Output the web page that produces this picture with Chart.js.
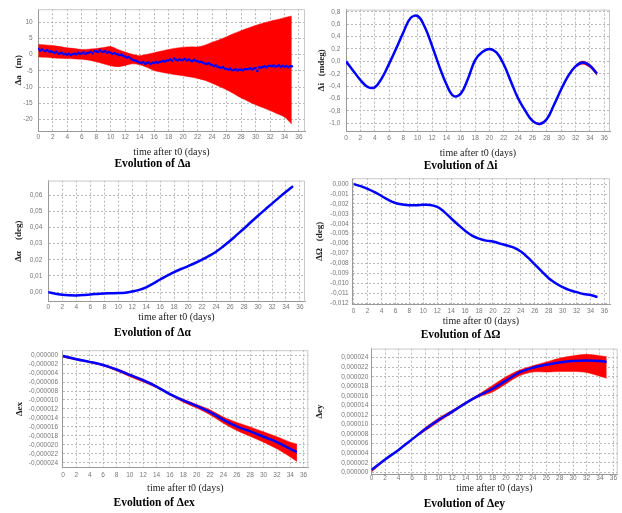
<!DOCTYPE html>
<html><head><meta charset="utf-8">
<script src="https://cdn.jsdelivr.net/npm/chart.js@4.4.0/dist/chart.umd.min.js"></script>
<style>
html,body{margin:0;padding:0;background:#fff;width:622px;height:513px;overflow:hidden;}
canvas{position:absolute;}
</style></head><body>
<canvas id="c1" width="311" height="171" style="left:0px;top:0px;width:311px;height:171px"></canvas>
<canvas id="c2" width="311" height="171" style="left:311px;top:0px;width:311px;height:171px"></canvas>
<canvas id="c3" width="311" height="171" style="left:0px;top:171px;width:311px;height:171px"></canvas>
<canvas id="c4" width="311" height="171" style="left:311px;top:171px;width:311px;height:171px"></canvas>
<canvas id="c5" width="311" height="171" style="left:0px;top:342px;width:311px;height:171px"></canvas>
<canvas id="c6" width="311" height="171" style="left:311px;top:342px;width:311px;height:171px"></canvas>
<script>
// ---------- DATA ----------
const days = [0,1,2,3,4,5,6,7,8,9,10,11,12,13,14,15,16,17,18,19,20,21,22,23,24,25,26,27,28,29,30,31,32,33,34,35];

// Δa (m): red envelope + blue points
const daUpper = [3.1,3.0,2.8,2.5,2.1,1.9,1.6,1.7,1.9,2.2,2.5,1.6,0.8,0.1,-0.3,0.1,0.6,1.1,1.6,2.0,2.3,2.4,2.4,2.9,3.8,4.6,5.5,6.5,7.4,8.2,9.0,9.7,10.3,10.8,11.4,11.9];
const daLower = [-0.7,-0.8,-1.0,-1.1,-1.2,-1.3,-1.4,-1.7,-2.2,-2.8,-3.4,-3.7,-3.3,-2.8,-3.1,-3.9,-4.9,-5.4,-5.8,-6.2,-6.5,-6.9,-7.3,-7.9,-8.8,-9.8,-10.8,-12.0,-13.3,-14.4,-15.4,-16.3,-17.2,-18.2,-19.2,-21.4];
const daDotsT = [
 0,0.25,0.5,0.75, 1,1.25,1.5,1.75, 2,2.25,2.5,2.75, 3,3.25,3.5,3.75, 4,4.25,4.5,4.75,
 5,5.25,5.5,5.75, 6,6.25,6.5,6.75, 7,7.25,7.5,7.75, 8,8.25,8.5,8.75, 9,9.25,9.5,9.75,
 10,10.25,10.5,10.75, 11,11.25,11.5,11.75, 12,12.25,12.5,12.75, 13,13.25,13.5,13.75, 14,14.25,14.5,14.75,
 15,15.25,15.5,15.75, 16,16.25,16.5,16.75, 17,17.25,17.5,17.75, 18,18.25,18.5,18.75, 19,19.25,19.5,19.75,
 20,20.25,20.5,20.75, 21,21.25,21.5,21.75, 22,22.25,22.5,22.75, 23,23.25,23.5,23.75, 24,24.25,24.5,24.75,
 25,25.25,25.5,25.75, 26,26.25,26.5,26.75, 27,27.25,27.5,27.75, 28,28.25,28.5,28.75, 29,29.25,29.5,29.75,
 30,30.25,30.5,30.75, 31,31.25,31.5,31.75, 32,32.25,32.5,32.75, 33,33.25,33.5,33.75, 34,34.25,34.5,34.75, 35];
const daDotsV = [
 1.8,1.3,1.6,1.2, 1.1,1.4,0.9,1.0, 0.8,0.5,0.9,0.3, 0.4,0.6,0.1,0.3, 0.0,0.3,-0.2,0.2,
 0.3,0.1,0.6,0.2, 0.4,0.7,0.2,0.5, 0.6,0.9,0.4,1.1, 1.0,0.8,1.4,0.9, 0.9,1.1,0.6,0.8,
 0.6,0.3,0.5,0.2, 0.1,-0.2,0.0,-0.4, -0.6,-0.9,-0.7,-1.2, -1.6,-1.8,-1.9,-2.2, -2.4,-2.6,-2.3,-2.8,
 -2.6,-2.4,-2.9,-2.5, -2.6,-2.3,-2.5,-2.2, -2.2,-1.9,-2.1,-1.8, -1.7,-1.5,-1.9,-1.2, -1.6,-1.8,-1.4,-1.7,
 -1.6,-1.3,-1.8,-1.5, -1.8,-2.0,-1.6,-1.9, -2.0,-2.3,-2.2,-2.5, -2.7,-2.9,-2.6,-3.0, -3.2,-3.5,-3.3,-3.7,
 -3.9,-4.1,-3.8,-4.3, -4.4,-4.6,-4.3,-4.8, -4.7,-4.5,-4.9,-4.6, -4.6,-4.8,-4.4,-4.5, -4.4,-4.2,-4.6,-4.3,
 -4.1,-5.0,-3.9,-4.0, -3.8,-3.6,-3.9,-3.5, -3.4,-3.6,-3.3,-3.7, -3.5,-3.3,-3.8,-3.4, -3.7,-3.5,-3.9,-3.6, -3.6];

// Δi (mdeg)
const diValues = [0,-0.15,-0.30,-0.41,-0.42,-0.27,-0.04,0.21,0.47,0.70,0.73,0.55,0.25,-0.08,-0.37,-0.56,-0.52,-0.28,0.02,0.15,0.20,0.14,-0.05,-0.33,-0.60,-0.80,-0.96,-1.01,-0.93,-0.70,-0.45,-0.23,-0.08,-0.02,-0.07,-0.20];
const diBandT = [24,25,26,27,28,29,30,31,32,33,34,35];
const diUpper = [-0.59,-0.79,-0.95,-0.995,-0.92,-0.69,-0.44,-0.215,-0.06,0.005,-0.05,-0.17];
const diLower = [-0.61,-0.81,-0.97,-1.025,-0.94,-0.71,-0.46,-0.245,-0.10,-0.045,-0.10,-0.23];

// Δα (deg)
const dalphaValues = [0,-0.001,-0.0016,-0.0019,-0.002,-0.0018,-0.0014,-0.0011,-0.0008,-0.0007,-0.0006,-0.0003,0.0004,0.0014,0.003,0.0053,0.0078,0.0102,0.0124,0.0143,0.0161,0.018,0.0201,0.0224,0.025,0.0282,0.0317,0.0355,0.0393,0.0433,0.0472,0.0510,0.0547,0.0584,0.0620,0.0655];

// ΔΩ (deg)
const domegaValues = [0,-0.0002,-0.00047,-0.0008,-0.0012,-0.0016,-0.0019,-0.00205,-0.00213,-0.00213,-0.00208,-0.0021,-0.0023,-0.0028,-0.00347,-0.0041,-0.0047,-0.0052,-0.0055,-0.0057,-0.0058,-0.006,-0.0062,-0.0064,-0.0068,-0.0074,-0.0081,-0.0088,-0.0095,-0.01,-0.0104,-0.0107,-0.0109,-0.0111,-0.0112,-0.0114];

// Δex, Δey
const eT = [0,2,4,6,8,10,12,14,16,18,20,22,24,26,28,30,32,34,35];
const exMean  = [-0.2e-6,-0.9e-6,-1.5e-6,-2.2e-6,-3.2e-6,-4.4e-6,-5.6e-6,-7.0e-6,-8.7e-6,-10.1e-6,-11.3e-6,-12.7e-6,-14.4e-6,-15.9e-6,-17.0e-6,-18.2e-6,-19.4e-6,-20.9e-6,-21.6e-6];
const exUpper = [0.0e-6,-0.75e-6,-1.4e-6,-2.05e-6,-3.0e-6,-4.2e-6,-5.4e-6,-6.85e-6,-8.55e-6,-9.85e-6,-11.0e-6,-12.2e-6,-13.8e-6,-15.0e-6,-16.0e-6,-17.1e-6,-18.2e-6,-19.4e-6,-19.8e-6];
const exLower = [-0.45e-6,-1.1e-6,-1.7e-6,-2.4e-6,-3.5e-6,-4.8e-6,-6.0e-6,-7.3e-6,-8.9e-6,-10.5e-6,-11.8e-6,-13.3e-6,-15.2e-6,-16.8e-6,-18.1e-6,-19.4e-6,-20.9e-6,-22.7e-6,-23.7e-6];
const eyMean  = [0.55e-6,2.7e-6,4.7e-6,6.9e-6,9.05e-6,11.0e-6,12.7e-6,14.5e-6,16.1e-6,17.5e-6,19.2e-6,20.9e-6,21.9e-6,22.5e-6,23.0e-6,23.3e-6,23.4e-6,23.3e-6,23.1e-6];
const eyUpper = [0.6e-6,2.8e-6,4.8e-6,7.0e-6,9.4e-6,11.4e-6,13.0e-6,14.7e-6,16.4e-6,18.2e-6,20.0e-6,21.4e-6,22.3e-6,23.1e-6,23.9e-6,24.4e-6,24.7e-6,24.4e-6,24.2e-6];
const eyLower = [0.1e-6,2.5e-6,4.6e-6,6.8e-6,8.7e-6,10.6e-6,12.4e-6,14.3e-6,15.8e-6,16.8e-6,18.5e-6,20.2e-6,21.0e-6,21.0e-6,21.1e-6,21.1e-6,20.9e-6,20.1e-6,19.7e-6];

const xTickStep = 2;

// ---------- HELPERS ----------
const pts = (xs, ys) => xs.map((x, i) => ({x: x, y: ys[i]}));
const fmt = dec => v => { const r = Math.abs(v) < 1e-12 ? 0 : v; return r.toFixed(dec).replace('.', ','); };
const RED = '#ff0000', BLUE = '#0000ff';
const band = (xs, up, lo) => [
  {data: pts(xs, up), order: 2, showLine: true, borderWidth: 0.5, borderColor: RED, pointRadius: 0, fill: '+1', backgroundColor: RED, tension: 0.3},
  {data: pts(xs, lo), order: 2, showLine: true, borderWidth: 0.5, borderColor: RED, pointRadius: 0, fill: false, tension: 0.3}
];
const line = (xs, ys) => ({data: pts(xs, ys), order: 1, showLine: true, borderColor: BLUE, borderWidth: 2.5, pointRadius: 0, fill: false, tension: 0.4});

const framePlugin = { id: 'frame', afterDraw(chart) {
  const {ctx, chartArea: a} = chart;
  ctx.save(); ctx.strokeStyle = '#c8c8c8'; ctx.lineWidth = 1;
  ctx.beginPath(); ctx.moveTo(a.left, a.top + 0.5); ctx.lineTo(a.right - 0.5, a.top + 0.5); ctx.lineTo(a.right - 0.5, a.bottom); ctx.stroke();
  ctx.restore();
}};

const TITLE_SIZE = 11.5, XT_SIZE = 10, YT_SIZE = 9, TICK_SIZE = 6.5;

function makeChart(id, L, cfg) {
  const CH = 171;
  const titleTopRel = L.tc - L.ct - TITLE_SIZE / 2;
  const titlePb = CH - titleTopRel - TITLE_SIZE;
  const xAxisH = titleTopRel - (L.B - L.ct);
  const xTitlePb = (L.tc - TITLE_SIZE / 2) - L.xc - XT_SIZE / 2;
  const xTickPad = L.xtc - L.B - TICK_SIZE * 1.2 / 2;
  const yW = L.L - L.cl;
  const yTitlePt = L.yt - L.cl - YT_SIZE / 2;
  const yTickPad = L.L - L.lr;
  new Chart(document.getElementById(id), {
    type: 'line',
    data: {datasets: cfg.datasets},
    plugins: [framePlugin],
    options: {
      responsive: false, animation: false, events: [],
      layout: {padding: {top: L.T - L.ct, right: L.cl + 311 - L.R, left: 0, bottom: 0}},
      plugins: {
        legend: {display: false}, tooltip: {enabled: false},
        title: {display: true, position: 'bottom', text: cfg.title, color: '#000',
          font: {family: 'Liberation Serif', size: TITLE_SIZE, weight: 'bold', lineHeight: 1},
          padding: {top: 0, bottom: titlePb}}
      },
      scales: {
        x: {
          type: 'linear', min: cfg.xmin, max: cfg.xmax,
          afterFit: s => { s.height = xAxisH; },
          grid: {color: '#b8b8b8', lineWidth: 1, drawTicks: false},
          border: {display: true, color: '#999', width: 1, dash: [2, 2]},
          ticks: {stepSize: xTickStep, includeBounds: false, autoSkip: false, maxRotation: 0, minRotation: 0,
            padding: xTickPad, color: '#777', font: {family: 'Liberation Sans', size: TICK_SIZE}},
          title: {display: true, text: 'time after t0 (days)', color: '#222',
            font: {family: 'Liberation Serif', size: XT_SIZE, lineHeight: 1}, padding: {top: 0, bottom: xTitlePb}}
        },
        y: {
          type: 'linear', min: cfg.ymin, max: cfg.ymax,
          afterFit: s => { s.width = yW; },
          grid: {color: '#b8b8b8', lineWidth: 1, drawTicks: false},
          border: {display: true, color: '#999', width: 1, dash: [2, 2]},
          ticks: {stepSize: cfg.ystep, includeBounds: false, autoSkip: false, padding: yTickPad,
            color: '#777', font: {family: 'Liberation Sans', size: TICK_SIZE}, callback: fmt(cfg.ydec)},
          title: {display: true, text: cfg.ytitle, color: '#222',
            font: {family: 'Liberation Serif', size: YT_SIZE, weight: 'bold', lineHeight: 1}, padding: {top: yTitlePt, bottom: 0}}
        }
      }
    }
  });
}

// ---------- CHARTS ----------
makeChart('c1', {cl: 0, ct: 0, L: 38, R: 305, T: 5, B: 131, yt: 18.7, lr: 32.7, xtc: 136.8, xc: 152, tc: 164.5}, {
  title: 'Evolution of Δa', ytitle: 'Δa   (m)', xmin: -0.04, xmax: 36.83, ymin: -23.5, ymax: 14.0, ystep: 5, ydec: 0,
  datasets: [...band(days, daUpper, daLower),
    {data: pts(daDotsT, daDotsV), order: 0, showLine: false, pointRadius: 1.3, pointBorderWidth: 0, pointBackgroundColor: BLUE, backgroundColor: BLUE, borderColor: BLUE}]
});
makeChart('c2', {cl: 311, ct: 0, L: 346, R: 610, T: 5, B: 131, yt: 321.3, lr: 340.3, xtc: 138.3, xc: 153.3, tc: 165.7}, {
  title: 'Evolution of Δi', ytitle: 'Δi   (mdeg)', xmin: 0, xmax: 36.8, ymin: -1.124, ymax: 0.836, ystep: 0.2, ydec: 1,
  datasets: [...band(diBandT, diUpper, diLower), line(days, diValues)]
});
makeChart('c3', {cl: 0, ct: 171, L: 48, R: 305, T: 175.3, B: 301.7, yt: 18.8, lr: 42.3, xtc: 307.7, xc: 317.7, tc: 333.3}, {
  title: 'Evolution of Δα', ytitle: 'Δα     (deg)', xmin: -0.04, xmax: 36.72, ymin: -0.0059, ymax: 0.0689, ystep: 0.01, ydec: 2,
  datasets: [line(days, dalphaValues)]
});
makeChart('c4', {cl: 311, ct: 171, L: 352, R: 610, T: 176.7, B: 304.3, yt: 320, lr: 348.7, xtc: 311, xc: 321.7, tc: 335.3}, {
  title: 'Evolution of ΔΩ', ytitle: 'ΔΩ   (deg)', xmin: -0.24, xmax: 36.8, ymin: -0.01213, ymax: 0.0006, ystep: 0.001, ydec: 3,
  datasets: [line(days, domegaValues)]
});
makeChart('c5', {cl: 0, ct: 342, L: 62.3, R: 308.3, T: 342, B: 467.7, yt: 19.7, lr: 58, xtc: 475.3, xc: 488.7, tc: 503.3}, {
  title: 'Evolution of Δex', ytitle: 'Δex', xmin: -0.1, xmax: 36.7, ymin: -25.1e-6, ymax: 1.1e-6, ystep: 2e-6, ydec: 6,
  datasets: [...band(eT, exUpper, exLower), line(eT, exMean)]
});
makeChart('c6', {cl: 311, ct: 342, L: 371, R: 617.7, T: 346.3, B: 474.3, yt: 319.3, lr: 368.3, xtc: 478.7, xc: 488.7, tc: 503.7}, {
  title: 'Evolution of Δey', ytitle: 'Δey', xmin: -0.1, xmax: 36.64, ymin: -0.41e-6, ymax: 25.9e-6, ystep: 2e-6, ydec: 6,
  datasets: [...band(eT, eyUpper, eyLower), line(eT, eyMean)]
});
</script>
</body></html>
